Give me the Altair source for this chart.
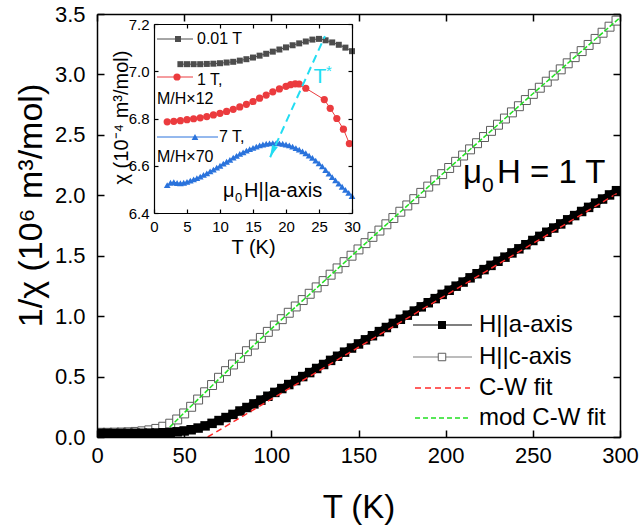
import altair as alt
import pandas as pd

FONT = "Liberation Sans"

# ---------------- main panel data ----------------
T_main = [2, 6, 10, 14, 18, 22, 26, 30, 34, 38, 42, 46, 50, 54, 58, 62, 66, 70, 74, 78,
          82, 86, 90, 94, 98, 102, 106, 110, 114, 118, 122, 126, 130, 134, 138, 142, 146,
          150, 154, 158, 162, 166, 170, 174, 178, 182, 186, 190, 194, 198, 202, 206, 210,
          214, 218, 222, 226, 230, 234, 238, 242, 246, 250, 254, 258, 262, 266, 270, 274,
          278, 282, 286, 290, 294, 298]
inv_chi_a = [0.030, 0.030, 0.029, 0.030, 0.030, 0.031, 0.031, 0.032, 0.033, 0.035, 0.038,
             0.043, 0.050, 0.060, 0.074, 0.092, 0.113, 0.136, 0.161, 0.187, 0.215, 0.244,
             0.274, 0.305, 0.337, 0.369, 0.401, 0.434, 0.467, 0.500, 0.533, 0.567, 0.600,
             0.634, 0.668, 0.702, 0.736, 0.770, 0.804, 0.838, 0.872, 0.906, 0.940, 0.974,
             1.008, 1.042, 1.077, 1.111, 1.145, 1.180, 1.214, 1.248, 1.282, 1.317, 1.351,
             1.385, 1.420, 1.454, 1.488, 1.523, 1.557, 1.591, 1.626, 1.660, 1.694, 1.729,
             1.763, 1.797, 1.832, 1.866, 1.900, 1.935, 1.969, 2.003, 2.038]
inv_chi_c = [0.035, 0.035, 0.036, 0.037, 0.039, 0.042, 0.047, 0.055, 0.067, 0.085, 0.110,
             0.145, 0.195, 0.250, 0.310, 0.370, 0.430, 0.490, 0.545, 0.600, 0.655, 0.710,
             0.765, 0.820, 0.870, 0.922, 0.975, 1.028, 1.080, 1.133, 1.185, 1.238, 1.290,
             1.343, 1.395, 1.447, 1.500, 1.552, 1.604, 1.656, 1.708, 1.760, 1.812, 1.864,
             1.916, 1.968, 2.020, 2.072, 2.124, 2.175, 2.226, 2.277, 2.329, 2.380, 2.431,
             2.482, 2.533, 2.584, 2.635, 2.686, 2.737, 2.788, 2.839, 2.890, 2.940, 2.991,
             3.042, 3.092, 3.143, 3.193, 3.244, 3.294, 3.345, 3.395, 3.445]
cw_T = [63.5, 300.0]
cw_inv = [0.0, 2.03]
mcw_T = [36, 50, 60, 70, 80, 90, 100, 125, 150, 200, 250, 300]
mcw_inv = [0.0, 0.20, 0.34, 0.48, 0.62, 0.76, 0.895, 1.22, 1.55, 2.20, 2.84, 3.47]

x_ticks = [0, 50, 100, 150, 200, 250, 300]
y_ticks = [0.0, 0.5, 1.0, 1.5, 2.0, 2.5, 3.0, 3.5]

# ---------------- inset data ----------------
T_001 = [4, 5, 6, 7, 8, 9, 10, 11, 12, 13, 14, 15, 16, 17, 18, 19, 20, 21, 22, 23, 24,
         25, 26, 27, 28, 29, 30]
chi_001 = [7.030, 7.030, 7.030, 7.030, 7.031, 7.032, 7.034, 7.037, 7.040, 7.045, 7.051,
           7.058, 7.066, 7.074, 7.083, 7.092, 7.101, 7.110, 7.118, 7.126, 7.134, 7.137,
           7.131, 7.122, 7.112, 7.100, 7.085]
T_1T = [2, 3, 4, 5, 6, 7, 8, 9, 10, 11, 12, 13, 14, 15, 16, 17, 18, 19, 20, 20.7, 21.4,
        22.0, 23.0, 25.8, 26.7, 27.7, 28.7, 29.6]
chi_1T = [6.786, 6.788, 6.791, 6.795, 6.799, 6.803, 6.808, 6.815, 6.822, 6.830, 6.839,
          6.849, 6.860, 6.872, 6.886, 6.899, 6.913, 6.925, 6.936, 6.943, 6.947, 6.946,
          6.928, 6.880, 6.843, 6.800, 6.755, 6.694]
T_7T = [2, 2.5, 3, 3.5, 4, 4.5, 5, 5.5, 6, 6.5, 7, 7.5, 8, 8.5, 9, 9.5, 10, 10.5, 11, 11.5,
        12, 12.5, 13, 13.5, 14, 14.5, 15, 15.5, 16, 16.5, 17, 17.5, 18, 18.5, 19, 19.5, 20,
        20.5, 21, 21.5, 22, 22.5, 23, 23.5, 24, 24.5, 25, 25.5, 26, 26.5, 27, 27.5, 28,
        28.5, 29, 29.5, 30]
chi_7T = [6.518, 6.528, 6.531, 6.527, 6.526, 6.528, 6.532, 6.537, 6.542, 6.548, 6.554,
          6.561, 6.568, 6.576, 6.584, 6.592, 6.600, 6.609, 6.617, 6.625, 6.634, 6.642,
          6.650, 6.657, 6.664, 6.670, 6.676, 6.681, 6.686, 6.690, 6.693, 6.695, 6.696,
          6.696, 6.695, 6.693, 6.690, 6.686, 6.681, 6.675, 6.668, 6.661, 6.653, 6.643,
          6.633, 6.622, 6.610, 6.597, 6.582, 6.567, 6.552, 6.538, 6.524, 6.511, 6.498,
          6.485, 6.472]
arrow_T = [25.9, 17.6]
arrow_chi = [7.149, 6.636]
arrowhead_T = [17.95]
arrowhead_chi = [6.660]

ix_ticks = [0, 5, 10, 15, 20, 25, 30]
iy_ticks = [6.4, 6.6, 6.8, 7.0, 7.2]

# ---------------- layout constants ----------------
W, H = 523, 423

df_a = pd.DataFrame({"T": T_main, "v": inv_chi_a})
df_c = pd.DataFrame({"T": T_main, "v": inv_chi_c})
df_cw = pd.DataFrame({"T": cw_T, "v": cw_inv})
df_mcw = pd.DataFrame({"T": mcw_T, "v": mcw_inv})
df_001 = pd.DataFrame({"T": T_001, "v": chi_001})
df_1T = pd.DataFrame({"T": T_1T, "v": chi_1T})
df_7T = pd.DataFrame({"T": T_7T, "v": chi_7T})
df_arrow = pd.DataFrame({"T": arrow_T, "v": arrow_chi})
df_head = pd.DataFrame({"T": arrowhead_T, "v": arrowhead_chi})
one = pd.DataFrame({"k": [0]})

xs = alt.Scale(domain=[0, 300], nice=False, zero=False)
ys = alt.Scale(domain=[0, 3.5], nice=False, zero=False)
xs_i = alt.Scale(domain=[0, 30], range=[57, 255], nice=False, zero=False)
ys_i = alt.Scale(domain=[6.4, 7.2], range=[199, 10], nice=False, zero=False)

# main axes
ax_x_lab = alt.Axis(orient="bottom", values=x_ticks, ticks=False, tickSize=0, labelFontSize=22,
                    labelPadding=8, labelFlush=False, labelOverlap=False, title="T (K)",
                    titleFontSize=33, titleBaseline="alphabetic", titleY=80, domainWidth=1.5,
                    zindex=1)
ax_y_lab = alt.Axis(orient="left", values=y_ticks, format=".1f", ticks=False, tickSize=0,
                    labelFontSize=22, labelPadding=12, labelFlush=False, labelOverlap=False,
                    title="1/χ (10⁶ m³/mol)", titleFontSize=34, titleBaseline="alphabetic",
                    titleX=-56, titleY=191, domainWidth=1.5, zindex=1)
ax_x_inb = alt.Axis(orient="top", offset=-H, values=x_ticks, labels=False, tickSize=7,
                    tickWidth=1.5, domain=False, title="", zindex=1)
ax_y_inl = alt.Axis(orient="right", offset=-W, values=y_ticks, labels=False, tickSize=7,
                    tickWidth=1.5, domain=False, title="", zindex=1)
ax_x_top = alt.Axis(orient="bottom", offset=-H, values=x_ticks, labels=False, tickSize=7,
                    tickWidth=1.5, domainWidth=1.5, title="", zindex=1)
ax_y_rgt = alt.Axis(orient="left", offset=-W, values=y_ticks, labels=False, tickSize=7,
                    tickWidth=1.5, domainWidth=1.5, title="", zindex=1)


def mx(axis=None):
    return alt.X("T:Q", scale=xs, axis=axis)


def my(axis=None):
    return alt.Y("v:Q", scale=ys, axis=axis)


def txt(s, x, y, size, color="black", align="left", baseline="alphabetic"):
    return alt.Chart(one).mark_text(text=s, fontSize=size, color=color, align=align,
                                    baseline=baseline, font=FONT).encode(
        x=alt.value(x), y=alt.value(y))


c_line = alt.Chart(df_c).mark_line(color="#7a7a7a", strokeWidth=1, clip=True).encode(
    x=mx(ax_x_lab), y=my(ax_y_lab))
c_pts = alt.Chart(df_c).mark_square(size=80, fill="white", stroke="#5c5c5c", strokeWidth=1,
                                    opacity=1, clip=True).encode(x=mx(), y=my())
mcw_line = alt.Chart(df_mcw).mark_line(color="#22e022", strokeWidth=1.5, strokeDash=[5, 2],
                                       clip=True).encode(x=mx(), y=my())
a_line = alt.Chart(df_a).mark_line(color="black", strokeWidth=7, clip=True).encode(
    x=mx(ax_x_inb), y=my(ax_y_inl))
a_pts = alt.Chart(df_a).mark_square(size=90, color="black", opacity=1, clip=True).encode(
    x=mx(), y=my())
cw_line = alt.Chart(df_cw).mark_line(color="#ff2a2a", strokeWidth=1.5, strokeDash=[6, 4],
                                     clip=True).encode(x=mx(ax_x_top), y=my(ax_y_rgt))

# main legend (pixel positions inside the plot)
rows = [311, 343, 374, 404]
leg = [
    alt.Chart(one).mark_rule(color="black", strokeWidth=1.2).encode(
        x=alt.value(316), x2=alt.value(375), y=alt.value(rows[0])),
    alt.Chart(one).mark_square(size=64, color="black", opacity=1).encode(
        x=alt.value(345), y=alt.value(rows[0])),
    txt("H||a-axis", 382, rows[0], 24, baseline="middle"),
    alt.Chart(one).mark_rule(color="#7a7a7a", strokeWidth=1.2).encode(
        x=alt.value(316), x2=alt.value(375), y=alt.value(rows[1])),
    alt.Chart(one).mark_square(size=56, fill="white", stroke="#5c5c5c", strokeWidth=1,
                               opacity=1).encode(x=alt.value(345), y=alt.value(rows[1])),
    txt("H||c-axis", 382, rows[1], 24, baseline="middle"),
    alt.Chart(one).mark_rule(color="#ff2a2a", strokeWidth=1.5, strokeDash=[6, 4]).encode(
        x=alt.value(318), x2=alt.value(373), y=alt.value(rows[2])),
    txt("C-W fit", 382, rows[2], 24, baseline="middle"),
    alt.Chart(one).mark_rule(color="#22e022", strokeWidth=1.5, strokeDash=[5, 3]).encode(
        x=alt.value(318), x2=alt.value(373), y=alt.value(rows[3])),
    txt("mod C-W fit", 382, rows[3], 24, baseline="middle"),
    txt("μ", 366, 169, 33),
    txt("0", 385, 178, 21),
    txt("H = 1 T", 400, 169, 33),
]

main_group = alt.layer(c_line, c_pts, mcw_line, a_line, a_pts, cw_line, *leg).resolve_axis(
    x="independent", y="independent")

# ---------------- inset ----------------
ax_ix_lab = alt.Axis(orient="bottom", offset=-224, values=ix_ticks, ticks=False, tickSize=0,
                     labelFontSize=15, labelPadding=6, labelFlush=False, labelOverlap=False,
                     title="T (K)", titleFontSize=20, titleBaseline="alphabetic", titleY=40,
                     domainWidth=1.2, zindex=1)
ax_iy_lab = alt.Axis(orient="left", offset=-57, values=iy_ticks, format=".1f", ticks=False,
                     tickSize=0, labelFontSize=15, labelPadding=5, labelFlush=False,
                     labelOverlap=False, title="χ (10⁻⁴ m³/mol)", titleFontSize=20,
                     titleBaseline="alphabetic", titleX=-27, titleY=103, domainWidth=1.2,
                     zindex=1)
ax_ix_inb = alt.Axis(orient="top", offset=-199, values=ix_ticks, labels=False, tickSize=4,
                     tickWidth=1.2, domain=False, title="", zindex=1)
ax_iy_inl = alt.Axis(orient="right", offset=-466, values=iy_ticks, labels=False, tickSize=4,
                     tickWidth=1.2, domain=False, title="", zindex=1)
ax_ix_top = alt.Axis(orient="bottom", offset=-413, values=ix_ticks, labels=False, tickSize=4,
                     tickWidth=1.2, domainWidth=1.2, title="", zindex=1)
ax_iy_rgt = alt.Axis(orient="left", offset=-255, values=iy_ticks, labels=False, tickSize=4,
                     tickWidth=1.2, domainWidth=1.2, title="", zindex=1)


def ix(axis=None):
    return alt.X("T:Q", scale=xs_i, axis=axis)


def iy(axis=None):
    return alt.Y("v:Q", scale=ys_i, axis=axis)


bg = alt.Chart(one).mark_rect(fill="white", opacity=1).encode(
    x=alt.X(datum=0, type="quantitative", scale=xs_i, axis=ax_ix_lab),
    x2=alt.X2(datum=30),
    y=alt.Y(datum=6.4, type="quantitative", scale=ys_i, axis=ax_iy_lab),
    y2=alt.Y2(datum=7.2))

GRAY, RED, BLUE, CYAN = "#4d4d4d", "#eb3b3e", "#2a73dc", "#22ddf2"

g_line = alt.Chart(df_001).mark_line(color=GRAY, strokeWidth=1).encode(
    x=ix(ax_ix_inb), y=iy(ax_iy_inl))
g_pts = alt.Chart(df_001).mark_square(size=36, color=GRAY, opacity=1).encode(x=ix(), y=iy())
r_line = alt.Chart(df_1T).mark_line(color=RED, strokeWidth=1).encode(
    x=ix(ax_ix_top), y=iy(ax_iy_rgt))
r_pts = alt.Chart(df_1T).mark_circle(size=52, color=RED, opacity=1).encode(x=ix(), y=iy())
b_line = alt.Chart(df_7T).mark_line(color=BLUE, strokeWidth=1).encode(x=ix(), y=iy())
b_pts = alt.Chart(df_7T).mark_point(shape="triangle-up", filled=True, size=45, color=BLUE,
                                    opacity=1).encode(x=ix(), y=iy())
arrow = alt.Chart(df_arrow).mark_line(color=CYAN, strokeWidth=2, strokeDash=[8, 5]).encode(
    x=ix(), y=iy())
head = alt.Chart(df_head).mark_point(shape="M-0.5,-1L0,1L0.5,-1Z", filled=True, size=150,
                                     angle=24, color=CYAN, opacity=1).encode(x=ix(), y=iy())

ileg = [
    alt.Chart(one).mark_rule(color=GRAY, strokeWidth=1).encode(
        x=alt.value(60), x2=alt.value(96), y=alt.value(25)),
    alt.Chart(one).mark_square(size=36, color=GRAY, opacity=1).encode(
        x=alt.value(81), y=alt.value(25)),
    txt("0.01 T", 100, 25, 16, baseline="middle"),
    alt.Chart(one).mark_rule(color=RED, strokeWidth=1).encode(
        x=alt.value(60), x2=alt.value(96), y=alt.value(63)),
    alt.Chart(one).mark_circle(size=52, color=RED, opacity=1).encode(
        x=alt.value(80), y=alt.value(63)),
    txt("1 T,", 100, 66, 16, baseline="middle"),
    txt("M/H×12", 60, 85, 16, baseline="middle"),
    alt.Chart(one).mark_rule(color=BLUE, strokeWidth=1).encode(
        x=alt.value(60), x2=alt.value(121), y=alt.value(123)),
    alt.Chart(one).mark_point(shape="triangle-up", filled=True, size=45, color=BLUE,
                              opacity=1).encode(x=alt.value(98), y=alt.value(123)),
    txt("7 T,", 122, 123, 16, baseline="middle"),
    txt("M/H×70", 60, 143, 16, baseline="middle"),
    txt("μ", 126, 183, 20),
    txt("0", 138, 188, 13),
    txt("H||a-axis", 147, 183, 20),
    txt("T", 223, 63, 21, color=CYAN, align="center", baseline="middle"),
    txt("*", 232, 57, 15, color=CYAN, align="center", baseline="middle"),
]

inset_group = alt.layer(bg, g_line, g_pts, r_line, r_pts, b_line, b_pts, arrow, head,
                        *ileg).resolve_axis(x="independent", y="independent")

chart = alt.layer(main_group, inset_group).resolve_scale(
    x="independent", y="independent"
).properties(
    width=W, height=H,
    autosize=alt.AutoSizeParams(type="none"),
    padding={"left": 97, "top": 14, "right": 19, "bottom": 88},
).configure_view(strokeWidth=0).configure_axis(
    labelFont=FONT, titleFont=FONT, labelColor="black", titleColor="black",
    domainColor="black", tickColor="black", grid=False, titleFontWeight="normal"
)

chart.save("out.html", embed_options={"renderer": "svg", "actions": False})
